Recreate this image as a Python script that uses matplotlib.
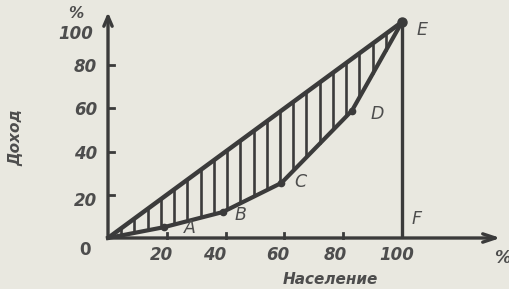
import numpy as np
import matplotlib
matplotlib.use("Agg")
import matplotlib.pyplot as plt

# Data (Lorenz curve)
pop = [0, 19, 39, 59, 83, 100]
income = [0, 5, 12, 25.5, 59, 100]
point_names = ["", "A", "B", "C", "D", "E"]
ticks = [20, 40, 60, 80, 100]
ylabels = ["20", "40", "60", "80", "100"]

bg = "#e9e8e0"
ink = "#3b3b3b"
txt = "#4d4d4d"

fig = plt.figure(figsize=(5.10, 2.89), dpi=100, facecolor=bg)
ax = fig.add_axes([0, 0, 1, 1])
ax.set_facecolor(bg)
sx, sy = 2.94, 2.16
ax.set_xlim(-108 / sx, (510 - 108) / sx)
ax.set_ylim(-51 / sy, 238 / sy)
ax.axis("off")

# axes with arrows
ax.annotate("", xy=(0, 104.5), xytext=(0, 0),
            arrowprops=dict(arrowstyle="->,head_length=0.7,head_width=0.3", lw=2.4, color=ink,
                            shrinkA=0, shrinkB=0))
ax.annotate("", xy=(133.5, 0), xytext=(0, 0),
            arrowprops=dict(arrowstyle="->,head_length=0.9,head_width=0.3", lw=2.4, color=ink,
                            shrinkA=0, shrinkB=0))
# vertical EF
ax.plot([100, 100], [0, 100], color=ink, lw=2.4, solid_capstyle="butt")

# ticks
for t in ticks[:-1]:
    ax.plot([0, 2], [t, t], color=ink, lw=2)
    ax.plot([t, t], [0, 2.5], color=ink, lw=2)

# hatch lines between diagonal and curve
for xh in np.arange(4.5, 99, 4.5):
    ylo = np.interp(xh, pop, income)
    ax.plot([xh, xh], [ylo, xh], color=ink, lw=1.9, solid_capstyle="butt")

# equality diagonal
ax.plot([0, 100], [0, 100], color=ink, lw=3.2, solid_capstyle="round")
# Lorenz curve
ax.plot(pop, income, color=ink, lw=3.0, solid_joinstyle="round")
ax.plot(pop[1:-1], income[1:-1], "o", color=ink, ms=4.5)
ax.plot([pop[-1]], [income[-1]], "o", color=ink, ms=6.5)

fs = dict(fontsize=12, style="italic", fontweight="bold", color=txt, family="DejaVu Sans")
fl = dict(fontsize=12.5, style="italic", color=txt, family="DejaVu Sans")

def px(x, y):
    return ((x - 108) / sx, (238 - y) / sy)

# point letters
letter_px = {"A": (190, 228), "B": (240, 215), "C": (300, 182), "D": (377, 114), "E": (422, 30)}
for name in point_names[1:]:
    ax.text(*px(*letter_px[name]), name, ha="center", va="center", **fl)
ax.text(*px(417, 219), "F", ha="center", va="center", **fl)

# tick labels
xlab_px = [162, 215, 278, 335, 397]
for xp, lab in zip(xlab_px, ylabels):
    ax.text(*px(xp, 255), lab, ha="center", va="center", **fs)
ylab_py = [201, 154, 110, 67, 34]
ylab_right = [97, 97, 97, 97, 93]
for yp, xr, lab in zip(ylab_py, ylab_right, ylabels):
    ax.text(*px(xr, yp), lab, ha="right", va="center", **fs)
ax.text(*px(85, 250), "0", ha="center", va="center", fontsize=12, fontweight="bold", color=txt)
ax.text(*px(76, 14), "%", ha="center", va="center", fontsize=11, style="italic",
        fontweight="bold", color=txt)
ax.text(*px(502, 258), "%", ha="center", va="center", **fs)

# axis titles
ax.text(*px(330, 279), "Население", ha="center", va="center",
        fontsize=11, style="italic", fontweight="bold", color=txt)
ax.text(*px(16, 138), "Доход", ha="center", va="center", rotation=90,
        fontsize=11, style="italic", fontweight="bold", color=txt)

fig.savefig("out.png", dpi=100, facecolor=bg)
